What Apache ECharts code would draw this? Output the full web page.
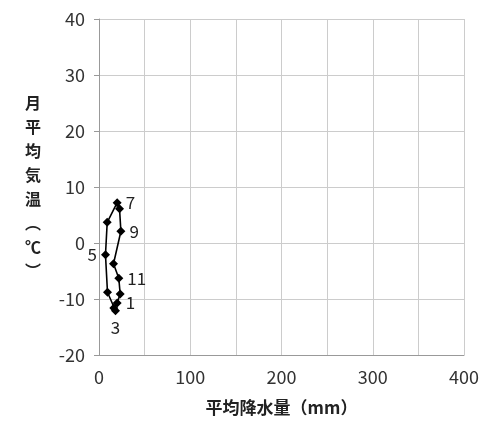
<!DOCTYPE html>
<html>
<head>
<meta charset="utf-8">
<script src="https://cdn.jsdelivr.net/npm/echarts@6/dist/echarts.min.js"></script>
<style>html,body{margin:0;padding:0;background:#fff;}#c{width:500px;height:443px;}</style>
</head>
<body>
<div id="c"></div>
<script>
const months = [1,2,3,4,5,6,7,8,9,10,11,12];
const precipitation = [19.9,16.2,18.1,9.3,7.1,9.0,19.9,22.5,24.0,15.9,21.7,23.2];
const temperature = [-10.7,-11.6,-12.1,-8.8,-2.1,3.7,7.2,6.1,2.1,-3.7,-6.3,-9.1];
const labelPos = {1:'right',3:'bottom',5:'left',7:'right',9:'right',11:'right'};

const font = '"Noto Sans CJK JP", "Noto Sans", sans-serif';
const pts = months.map((m,i)=>({
  value:[precipitation[i], temperature[i]],
  label: labelPos[m] ? {show:true, position:labelPos[m], formatter:String(m)} : {show:false}
}));
pts.push({value:[precipitation[0], temperature[0]], label:{show:false}, symbol:'none'});

const chart = echarts.init(document.getElementById('c'));
chart.setOption({
  animation:false,
  grid:{left:99,right:36,top:19,bottom:88},
  xAxis:{
    type:'value',min:0,max:400,interval:50,
    axisLine:{show:true,onZero:false,lineStyle:{color:'#999',width:1}},
    axisTick:{show:false},
    splitLine:{show:true,lineStyle:{color:'#ccc',width:1}},
    axisLabel:{margin:13,fontSize:18,color:'#333',fontFamily:font,
      formatter:v=> (v%100===0? String(v):'')},
    name:'平均降水量（mm）',nameLocation:'middle',nameGap:44,
    nameTextStyle:{fontSize:17,fontWeight:'bold',color:'#222',fontFamily:font}
  },
  yAxis:{
    type:'value',min:-20,max:40,interval:10,
    axisLine:{show:true,onZero:false,lineStyle:{color:'#999',width:1}},
    axisTick:{show:true,inside:false,length:5,lineStyle:{color:'#999'}},
    splitLine:{show:true,lineStyle:{color:'#ccc',width:1}},
    axisLabel:{margin:14,fontSize:18,color:'#333',fontFamily:font},
    name:'月\n平\n均\n気\n温\n︵\n℃\n︶',nameLocation:'middle',nameRotate:0,nameGap:58,
    nameTextStyle:{fontSize:16,fontWeight:'bold',color:'#222',fontFamily:font,lineHeight:24}
  },
  series:[{
    type:'line',
    data:pts,
    symbol:'diamond',symbolSize:9,
    itemStyle:{color:'#000'},
    lineStyle:{color:'#000',width:1.6},
    label:{fontSize:17,color:'#222',fontFamily:font,distance:4}
  }]
});
</script>
</body>
</html>
